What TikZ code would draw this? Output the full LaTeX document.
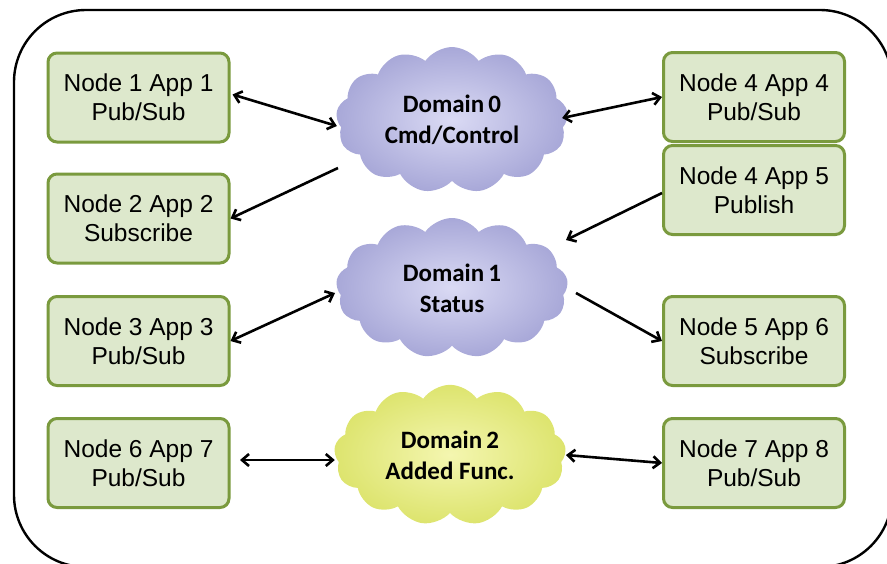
\documentclass[tikz,border=0pt]{standalone}
\usepackage{fontspec}
\setmainfont{Liberation Sans}
\newfontfamily\cloudfont{Carlito}
\usepackage{tikz}
\usetikzlibrary{shapes.symbols,arrows.meta}

\definecolor{boxfill}{HTML}{DDE8CC}
\definecolor{boxline}{HTML}{7A9A3E}
\definecolor{lilacin}{HTML}{DADAF4}
\definecolor{lilacout}{HTML}{A8A8D8}
\definecolor{lemonin}{HTML}{F4F6B0}
\definecolor{lemonout}{HTML}{DDE46E}

\tikzset{
  app/.style={draw=boxline, line width=3pt, fill=boxfill, rounded corners=9pt,
    minimum width=181pt, minimum height=89pt, align=center,
    font=\fontsize{24.5}{29}\selectfont},
  domcloud/.style={cloud, cloud puffs=13, cloud puff arc=110, aspect=1.6,
    minimum width=232pt, minimum height=140pt, align=center,
    font=\cloudfont\bfseries\fontsize{25}{31}\selectfont},
  lilac/.style={domcloud, inner color=lilacin, outer color=lilacout},
  lemon/.style={domcloud, inner color=lemonin, outer color=lemonout},
  link/.style={line width=2.6pt, -{Straight Barb[length=7pt,width=12pt]}},
  twoway/.style={line width=2.6pt, {Straight Barb[length=7pt,width=12pt]}-{Straight Barb[length=7pt,width=12pt]}}
}

\begin{document}
\begin{tikzpicture}[x=1pt,y=-1pt]
    \useasboundingbox (0,0) rectangle (887,563);
    \draw[line width=2.4pt, rounded corners=72pt] (14,10) rectangle (892,567);

    % left column
    \node[app] (n1) at (138.5,97.5) {Node 1 App 1\\Pub/Sub};
    \node[app] (n2) at (138.5,218.5) {Node 2 App 2\\Subscribe};
    \node[app] (n3) at (138.5,341) {Node 3 App 3\\Pub/Sub};
    \node[app] (n6) at (138.5,463) {Node 6 App 7\\Pub/Sub};

    % right column
    \node[app] (n4) at (754,97) {Node 4 App 4\\Pub/Sub};
    \node[app] (n45) at (754,190) {Node 4 App 5\\Publish};
    \node[app] (n5) at (754,341) {Node 5 App 6\\Subscribe};
    \node[app] (n7) at (754,463) {Node 7 App 8\\Pub/Sub};

    % domains
    \node[lilac] (d0) at (452,120) {Domain\,0\\Cmd/Control};
    \node[lilac] (d1) at (452,288) {Domain\,1\\Status};
    \node[lemon] (d2) at (450,455) {Domain\,2\\Added Func.};

    \draw[twoway] (n1.east) ++(2,-3) coordinate (a1) -- (d0.west |- 0,126) coordinate (a2);
    \draw[link] (338,168) coordinate (b1) -- (n2.east);
    \draw[twoway] (d0.east |- 0,118) ++(-5,0) coordinate (c1) -- (n4.west);
    \draw[link] (n45.west) ++(0,3) coordinate (e1) -- (566,240) coordinate (e2);
    \draw[twoway] (n3.east) -- (335,293) coordinate (f1);
    \draw[link] (576,293) coordinate (g1) -- (n5.west);
    \draw[twoway] (240,460) coordinate (h1) -- (d2.west |- 0,460);
    \draw[twoway] (566,455) coordinate (k1) -- (n7.west);
\end{tikzpicture}
\end{document}
